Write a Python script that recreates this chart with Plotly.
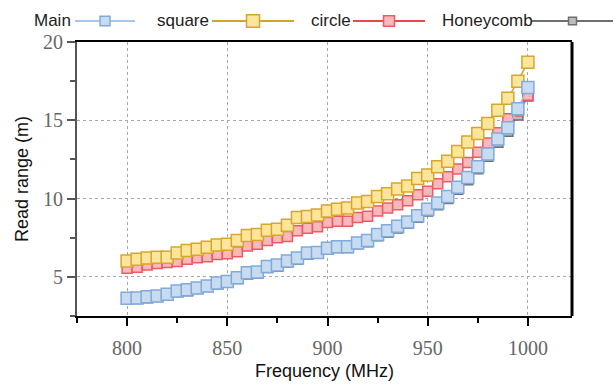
import plotly.graph_objects as go

# Frequency sweep (MHz)
freq = list(range(800, 1001, 5))

# Read range (m) for each tag design
main = [3.63, 3.65, 3.73, 3.77, 3.89, 4.09, 4.17, 4.29, 4.42, 4.60,
        4.70, 4.95, 5.27, 5.31, 5.66, 5.75, 6.01, 6.20, 6.52, 6.56,
        6.83, 6.93, 6.93, 7.17, 7.33, 7.70, 7.94, 8.24, 8.51, 8.91,
        9.32, 9.72, 10.13, 10.73, 11.34, 12.03, 12.85, 13.81, 14.52, 15.74,
        17.10]
square = [6.02, 6.12, 6.20, 6.26, 6.26, 6.52, 6.68, 6.77, 6.89, 7.03,
          7.09, 7.33, 7.64, 7.70, 7.98, 8.04, 8.30, 8.79, 8.85, 8.95,
          9.20, 9.32, 9.40, 9.72, 9.81, 10.13, 10.31, 10.61, 10.81, 11.28,
          11.50, 12.03, 12.39, 13.00, 13.61, 14.15, 14.79, 15.64, 16.40, 17.50,
          18.71]
circle = [5.55, 5.61, 5.75, 5.85, 5.92, 5.98, 6.12, 6.22, 6.28, 6.42,
          6.48, 6.60, 6.97, 7.09, 7.33, 7.50, 7.58, 7.94, 8.10, 8.20,
          8.47, 8.55, 8.55, 8.79, 8.87, 9.20, 9.40, 9.60, 9.86, 10.25,
          10.47, 10.94, 11.39, 11.89, 12.31, 12.96, 13.55, 14.20, 15.10, 15.60,
          16.60]
honeycomb = [3.60, 3.62, 3.66, 3.75, 3.86, 4.05, 4.12, 4.25, 4.38, 4.55,
             4.66, 4.90, 5.18, 5.25, 5.60, 5.68, 5.95, 6.12, 6.45, 6.52,
             6.78, 6.88, 6.88, 7.12, 7.25, 7.62, 7.85, 8.12, 8.42, 8.80,
             9.20, 9.60, 10.00, 10.60, 11.20, 11.90, 12.70, 13.60, 14.30, 15.33,
             16.55]

x_ticks = [800, 850, 900, 950, 1000]
y_ticks = [5, 10, 15, 20]

W, H = 613, 390
ML, MR, MT, MB = 77, 41, 42, 61

# name, values, line colour, marker fill, marker edge, marker size
series = [
    ("Honeycomb", honeycomb, "#6f6f6f", "#bdbdbd", "#6f6f6f", 10),
    ("circle", circle, "#ec4650", "#f8b8bc", "#ef5a62", 10),
    ("square", square, "#d3a42a", "#fde59c", "#d6a62e", 12),
    ("Main", main, "#a8c6e8", "#c8dbf0", "#80aada", 12),
]

fig = go.Figure()
for name, vals, lc, fc, ec, ms in series:
    fig.add_trace(go.Scatter(
        x=freq, y=vals, name=name, mode="lines+markers",
        line=dict(color=lc, width=1.5),
        marker=dict(symbol="square", size=ms, color=fc,
                    line=dict(color=ec, width=1.5)),
        showlegend=False,
    ))

# Hand-built legend row: label, then line sample with a marker in the middle
def px_x(p):
    return (p - ML) / (W - ML - MR)

def px_y(p):
    return (H - MB - p) / (H - MT - MB)

legend_items = [
    # label, text left, line start, line end, line, fill, edge, marker px
    ("Main", 32, 75, 135, "#a8c6e8", "#c8dbf0", "#80aada", 10),
    ("square", 155, 212, 294, "#d3a42a", "#fde59c", "#d6a62e", 13),
    ("circle", 309, 353, 425, "#ec4650", "#f8b8bc", "#ef5a62", 11),
    ("Honeycomb", 440, 532, 613, "#6f6f6f", "#bdbdbd", "#6f6f6f", 8),
]
shapes = []
annotations = []
ly = 20
for label, tx, l0, l1, lc, fc, ec, ms in legend_items:
    annotations.append(dict(
        text=label, xref="paper", yref="paper", x=px_x(tx), y=px_y(ly),
        xanchor="left", yanchor="middle", showarrow=False,
        font=dict(family="Liberation Sans, Arial", size=17, color="#222"),
    ))
    shapes.append(dict(type="line", xref="paper", yref="paper",
                       x0=px_x(l0), x1=px_x(l1), y0=px_y(ly), y1=px_y(ly),
                       line=dict(color=lc, width=2)))
    cx = (l0 + l1) / 2
    shapes.append(dict(type="rect", xref="paper", yref="paper",
                       x0=px_x(cx - ms / 2), x1=px_x(cx + ms / 2),
                       y0=px_y(ly - ms / 2), y1=px_y(ly + ms / 2),
                       fillcolor=fc, line=dict(color=ec, width=1.5)))

# Right frame edge, drawn heavier than the others
shapes.append(dict(type="line", xref="paper", yref="paper",
                   x0=1, x1=1, y0=0, y1=1, line=dict(color="black", width=3)))

tick_font = dict(family="Liberation Serif, Times New Roman", size=20, color="#666")
title_font = dict(family="Liberation Sans, Arial", size=18, color="#111")

fig.update_layout(
    width=W, height=H,
    margin=dict(l=ML, r=MR, t=MT, b=MB),
    paper_bgcolor="white", plot_bgcolor="white",
    shapes=shapes, annotations=annotations,
    xaxis=dict(
        range=[775, 1022], tickvals=x_ticks, ticks="outside",
        ticklen=8, tickwidth=2, tickcolor="black", ticklabelstandoff=5,
        minor=dict(dtick=50, tick0=825, ticks="outside", ticklen=5,
                   tickwidth=2, tickcolor="black", showgrid=False),
        showline=True, linecolor="black", linewidth=2, mirror=True,
        showgrid=True, gridcolor="#a8a8a8", griddash="3px,3px", gridwidth=1,
        zeroline=False, tickfont=tick_font,
        title=dict(text="Frequency (MHz)", font=title_font, standoff=6),
    ),
    yaxis=dict(
        range=[2.5, 20], tickvals=y_ticks, ticks="outside",
        ticklen=8, tickwidth=2, tickcolor="#555",
        minor=dict(dtick=5, tick0=2.5, ticks="outside", ticklen=5,
                   tickwidth=2, tickcolor="#555", showgrid=False),
        showline=True, linecolor="#555", linewidth=2,
        showgrid=True, gridcolor="#a8a8a8", griddash="3px,3px", gridwidth=1,
        zeroline=False, tickfont=tick_font,
        title=dict(text="Read range (m)", font=title_font, standoff=10),
    ),
)

fig.write_html("out.html")
